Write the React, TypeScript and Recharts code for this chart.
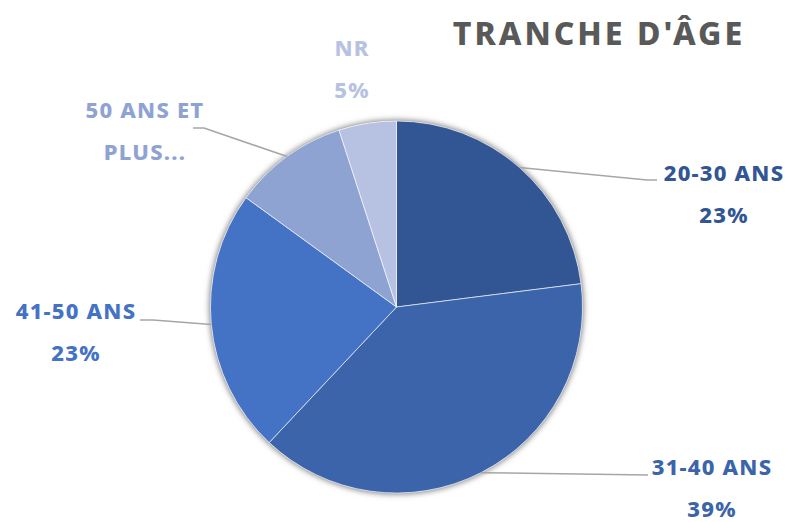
import React from "react";
import { PieChart, Pie, Cell } from "recharts";

const CATEGORIES = ["20-30 ANS", "31-40 ANS", "41-50 ANS", "50 ANS ET PLUS...", "NR"];
const SHARES = [23, 39, 23, 10, 5];
const COLORS = ["#325594", "#3C64AB", "#4472C4", "#8FA3D3", "#B7C2E2"];

const data = CATEGORIES.map((name, i) => ({ name, value: SHARES[i] }));

// hand placed labels, like in the original sheet
const LABEL_LAYOUT = [
  { x: 724, y: 181, line: [[647, 180], [657, 180]] },
  { x: 712, y: 475, line: [[648, 475]] },
  { x: 76, y: 319, line: [[153, 320], [140, 320]] },
  { x: 145, y: 118, line: [[204, 128], [193, 128]], wrap: ["50 ANS ET", "PLUS..."] },
  { x: 352, y: 56, line: [] as number[][] },
];

const RAD = Math.PI / 180;
const FONT = "'Noto Sans', 'Open Sans', sans-serif";

const renderLabel = (props: any) => {
  const { cx, cy, midAngle, outerRadius, index, value, name } = props;
  const lay = LABEL_LAYOUT[index];
  const sx = cx + outerRadius * Math.cos(-midAngle * RAD);
  const sy = cy + outerRadius * Math.sin(-midAngle * RAD);
  const pts = lay.line.length ? [[sx, sy], ...lay.line] : [];
  const lines = lay.wrap ? lay.wrap : [name, `${value}%`];
  return (
    <g key={`lbl-${index}`}>
      {pts.length > 0 && (
        <polyline
          points={pts.map((p) => p.join(",")).join(" ")}
          fill="none"
          stroke="#A6A6A6"
          strokeWidth={1.5}
        />
      )}
      {lines.map((t: string, k: number) => (
        <text
          key={k}
          x={lay.x}
          y={lay.y + k * 42}
          textAnchor="middle"
          fill={COLORS[index]}
          fontFamily={FONT}
          fontWeight={800}
          fontSize={22}
          letterSpacing={1.2}
        >
          {t}
        </text>
      ))}
    </g>
  );
};

export default function App() {
  return (
    <div style={{ position: "absolute", left: 0, top: 0, width: 789, height: 522, background: "#fff" }}>
      <style>{`.pie-shadow { filter: drop-shadow(0 0 3px rgba(0,0,0,0.35)); }`}</style>
      <div
        style={{
          position: "absolute",
          left: 420,
          width: 358,
          top: 10,
          textAlign: "center",
          fontFamily: FONT,
          fontWeight: 800,
          fontSize: 32,
          letterSpacing: 3,
          color: "#595959",
          lineHeight: "46px",
        }}
      >
        TRANCHE D'ÂGE
      </div>
      <PieChart width={789} height={522} margin={{ top: 0, right: 0, bottom: 0, left: 0 }}>
        <Pie
          data={[{ value: 1 }]}
          dataKey="value"
          cx={396.5}
          cy={307}
          outerRadius={186}
          fill="#fff"
          stroke="none"
          className="pie-shadow"
          isAnimationActive={false}
        />
        <Pie
          data={data}
          dataKey="value"
          nameKey="name"
          cx={396.5}
          cy={307}
          outerRadius={186}
          startAngle={90}
          endAngle={-270}
          stroke="#ffffff"
          strokeWidth={0.6}
          label={renderLabel}
          labelLine={false}
          isAnimationActive={false}
        >
          {data.map((d, i) => (
            <Cell key={d.name} fill={COLORS[i]} />
          ))}
        </Pie>
      </PieChart>
    </div>
  );
}
